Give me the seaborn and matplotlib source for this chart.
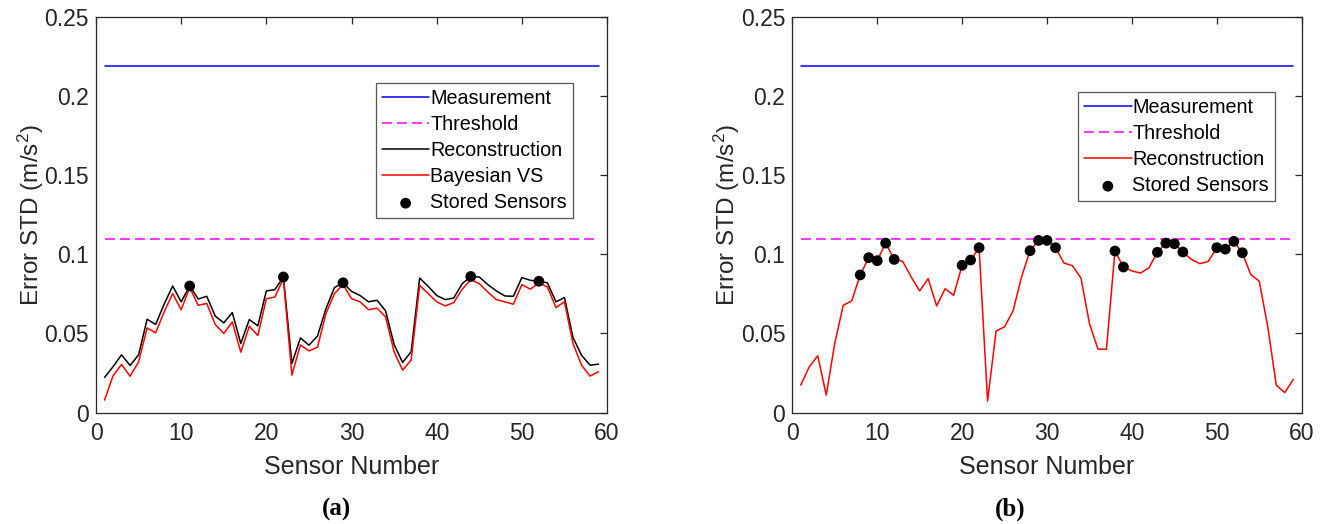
import matplotlib
matplotlib.use("Agg")
import matplotlib.pyplot as plt
import numpy as np
import pandas as pd
import seaborn as sns

# ---------------- data ----------------
sensors = list(range(1, 60))

recon_a = [0.0222, 0.029, 0.0365, 0.0298, 0.0365, 0.059, 0.0557, 0.0685, 0.080, 0.070,
           0.080, 0.0718, 0.0735, 0.061, 0.0567, 0.0632, 0.0437, 0.0588, 0.0548, 0.0769,
           0.0777, 0.0857, 0.031, 0.0472, 0.0426, 0.0483, 0.0657, 0.079, 0.082, 0.0766,
           0.074, 0.070, 0.071, 0.0643, 0.043, 0.0317, 0.0384, 0.085, 0.0798, 0.074,
           0.0714, 0.0724, 0.0815, 0.086, 0.0857, 0.0809, 0.0769, 0.0737, 0.0735, 0.0853,
           0.0836, 0.083, 0.082, 0.070, 0.0727, 0.0475, 0.0363, 0.030, 0.0306]

bayes_a = [0.0079, 0.0233, 0.0304, 0.023, 0.032, 0.0535, 0.0504, 0.0636, 0.0752, 0.065,
           0.079, 0.0678, 0.069, 0.0557, 0.050, 0.0573, 0.0382, 0.0546, 0.0487, 0.072,
           0.073, 0.0846, 0.0237, 0.0428, 0.039, 0.0413, 0.0626, 0.0752, 0.081, 0.072,
           0.070, 0.065, 0.066, 0.0605, 0.0384, 0.0268, 0.0332, 0.0804, 0.0752, 0.070,
           0.0674, 0.0695, 0.078, 0.084, 0.0815, 0.0762, 0.0714, 0.070, 0.0685, 0.0809,
           0.078, 0.082, 0.0794, 0.0664, 0.070, 0.0437, 0.030, 0.0231, 0.0258]

stored_a = [11, 22, 29, 44, 52]

recon_b = [0.0174, 0.029, 0.0359, 0.0111, 0.0437, 0.0678, 0.0706, 0.0870, 0.0979, 0.096,
           0.1071, 0.0968, 0.0956, 0.0857, 0.0769, 0.0847, 0.0674, 0.0783, 0.0741, 0.0931,
           0.0964, 0.1042, 0.0073, 0.0515, 0.0542, 0.0643, 0.0857, 0.1023, 0.1088, 0.1088,
           0.1042, 0.0945, 0.0928, 0.085, 0.0563, 0.0401, 0.0401, 0.1021, 0.092, 0.0895,
           0.0882, 0.0914, 0.1013, 0.1071, 0.1067, 0.1015, 0.0968, 0.0941, 0.0956, 0.1042,
           0.1033, 0.1082, 0.101, 0.0872, 0.083, 0.0542, 0.0174, 0.0126, 0.021]

stored_b = [8, 9, 10, 11, 12, 20, 21, 22, 28, 29, 30, 31, 38, 39, 43, 44, 45, 46,
            50, 51, 52, 53]

measurement_level = 0.219
threshold_level = 0.1095

x_ticks = [0, 10, 20, 30, 40, 50, 60]
y_ticks = [0, 0.05, 0.1, 0.15, 0.2, 0.25]
y_tick_labels = ["0", "0.05", "0.1", "0.15", "0.2", "0.25"]

# ---------------- style ----------------
sns.set_style("white")
plt.rcParams['font.family'] = ['Liberation Sans', 'DejaVu Sans']
plt.rcParams['mathtext.fontset'] = 'custom'
plt.rcParams['mathtext.rm'] = 'Liberation Sans'
plt.rcParams['mathtext.it'] = 'Liberation Sans:italic'
TXT = "#262626"

fig = plt.figure(figsize=(13.26, 5.24), dpi=100)
ax_a = fig.add_axes([0.0724, 0.2126, 0.3854, 0.7550])
ax_b = fig.add_axes([0.5975, 0.2126, 0.3842, 0.7550])

def draw_panel(ax, recon, bayes, stored, legend_anchor):
    ends = [sensors[0], sensors[-1]]
    sns.lineplot(x=ends, y=[measurement_level] * 2, ax=ax, color=(0, 0, 1),
                 lw=1.1, label="Measurement")
    sns.lineplot(x=ends, y=[threshold_level] * 2, ax=ax, color=(1, 0, 1),
                 lw=1.1, label="Threshold", linestyle=(0, (6.5, 3.3)))
    if bayes is not None:
        sns.lineplot(x=sensors, y=recon, ax=ax, color="black", lw=1.1,
                     label="Reconstruction")
        sns.lineplot(x=sensors, y=bayes, ax=ax, color=(1, 0, 0), lw=1.1,
                     label="Bayesian VS")
    else:
        sns.lineplot(x=sensors, y=recon, ax=ax, color=(1, 0, 0), lw=1.1,
                     label="Reconstruction")
    df = pd.DataFrame({"sensor": sensors, "val": recon})
    dots = df[df["sensor"].isin(stored)]
    sns.scatterplot(data=dots, x="sensor", y="val", ax=ax, color="black", s=60,
                    edgecolor="none", zorder=5, label="Stored Sensors")

    ax.set_xlim(0, 60)
    ax.set_ylim(0, 0.25)
    ax.set_xticks(x_ticks)
    ax.set_yticks(y_ticks)
    ax.set_yticklabels(y_tick_labels)
    ax.tick_params(direction="in", length=5, width=0.9, colors=TXT,
                   labelsize=16.5, top=True, right=True,
                   labeltop=False, labelright=False)
    ax.tick_params(axis="x", pad=7)
    ax.tick_params(axis="y", pad=5)
    for sp in ax.spines.values():
        sp.set_visible(True)
        sp.set_color(TXT)
        sp.set_linewidth(0.9)
    ax.set_xlabel("Sensor Number", fontsize=18, color=TXT, labelpad=7)
    ax.set_ylabel("Error STD (m/s$^{2}$)", fontsize=17.5, color=TXT, labelpad=-1)
    leg = ax.legend(loc="upper right", bbox_to_anchor=legend_anchor,
                    fontsize=14.2, frameon=True, fancybox=False, shadow=False,
                    framealpha=1, edgecolor="#555555", handlelength=2.4,
                    handletextpad=0.05, labelspacing=0.36, borderpad=0.3,
                    borderaxespad=0.0, scatterpoints=1)
    leg.get_frame().set_linewidth(0.9)
    for t in leg.get_texts():
        t.set_color("black")

draw_panel(ax_a, recon_a, bayes_a, stored_a, (0.933, 0.833))
draw_panel(ax_b, recon_b, None, stored_b, (0.9476, 0.810))

fig.text(0.2535, 0.028, "(a)", ha="center", va="center", fontsize=18,
         family=["Liberation Serif", "DejaVu Serif"], fontweight="bold", color="black")
fig.text(0.7620, 0.028, "(b)", ha="center", va="center", fontsize=18,
         family=["Liberation Serif", "DejaVu Serif"], fontweight="bold", color="black")

fig.savefig("out.png", dpi=100)
